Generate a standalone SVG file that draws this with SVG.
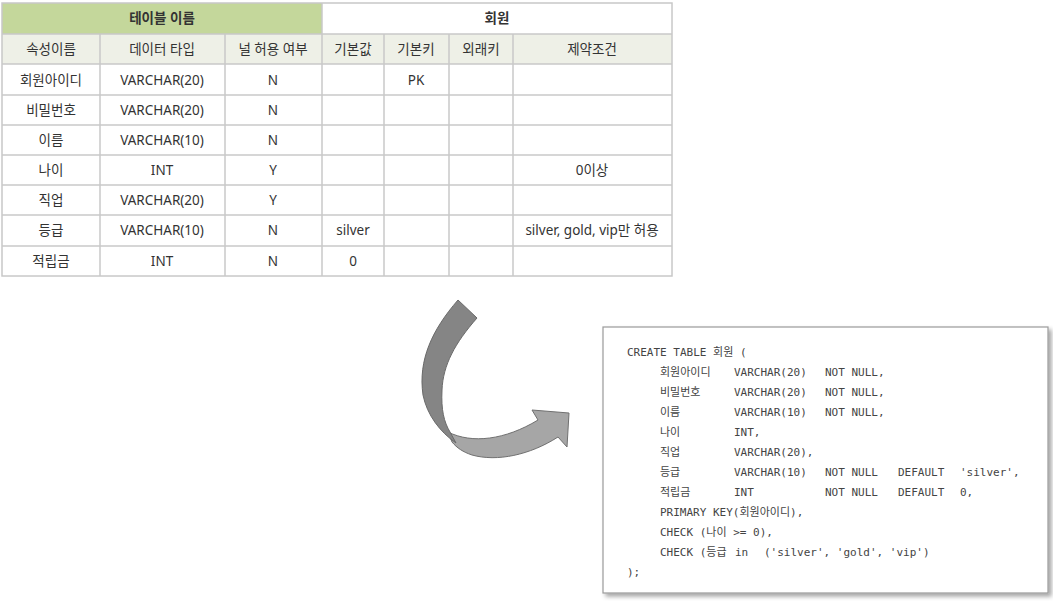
<svg xmlns="http://www.w3.org/2000/svg" width="1053" height="601" viewBox="0 0 1053 601">
<style>
.cell{font-family:"Noto Sans","Noto Sans CJK KR",sans-serif;font-size:13.5px;fill:#333;text-anchor:middle}
.hd{font-weight:bold}
.grid{stroke:#c8c8c8;stroke-width:1.5;fill:none}
.code{font-family:"DejaVu Sans Mono","Noto Sans CJK KR",monospace;font-size:11px;fill:#444}
</style>
<defs>
<filter id="sh" x="-5%" y="-5%" width="115%" height="115%">
<feDropShadow dx="3" dy="3" stdDeviation="2" flood-color="#000" flood-opacity="0.35"/>
</filter>
</defs>
<rect width="1053" height="601" fill="#fff"/>

<g id="table">
<rect x="2" y="3" width="320" height="31" fill="#c4d79b"/>
<rect x="322" y="3" width="350" height="31" fill="#fff"/>
<rect x="2" y="34" width="670" height="30" fill="#eef0e7"/>
<g class="grid">
<rect x="2" y="3" width="670" height="273"/>
<line x1="2" y1="34" x2="672" y2="34"/>
<line x1="2" y1="64" x2="672" y2="64"/>
<line x1="2" y1="95" x2="672" y2="95"/>
<line x1="2" y1="125" x2="672" y2="125"/>
<line x1="2" y1="155" x2="672" y2="155"/>
<line x1="2" y1="185" x2="672" y2="185"/>
<line x1="2" y1="215" x2="672" y2="215"/>
<line x1="2" y1="246" x2="672" y2="246"/>
<line x1="100" y1="34" x2="100" y2="276"/>
<line x1="225" y1="34" x2="225" y2="276"/>
<line x1="322" y1="3" x2="322" y2="276"/>
<line x1="384" y1="34" x2="384" y2="276"/>
<line x1="449" y1="34" x2="449" y2="276"/>
<line x1="513" y1="34" x2="513" y2="276"/>
</g>
<text class="cell hd" x="162" y="23">테이블 이름</text>
<text class="cell hd" x="497" y="23">회원</text>
<text class="cell" x="51" y="54">속성이름</text>
<text class="cell" x="162" y="54">데이터 타입</text>
<text class="cell" x="273" y="54">널 허용 여부</text>
<text class="cell" x="353" y="54">기본값</text>
<text class="cell" x="416" y="54">기본키</text>
<text class="cell" x="481" y="54">외래키</text>
<text class="cell" x="592" y="54">제약조건</text>

<text class="cell" x="51" y="85">회원아이디</text>
<text class="cell" x="162" y="85">VARCHAR(20)</text>
<text class="cell" x="273" y="85">N</text>
<text class="cell" x="416" y="85">PK</text>

<text class="cell" x="51" y="115">비밀번호</text>
<text class="cell" x="162" y="115">VARCHAR(20)</text>
<text class="cell" x="273" y="115">N</text>

<text class="cell" x="51" y="145">이름</text>
<text class="cell" x="162" y="145">VARCHAR(10)</text>
<text class="cell" x="273" y="145">N</text>

<text class="cell" x="51" y="175">나이</text>
<text class="cell" x="162" y="175">INT</text>
<text class="cell" x="273" y="175">Y</text>
<text class="cell" x="592" y="175">0이상</text>

<text class="cell" x="51" y="205">직업</text>
<text class="cell" x="162" y="205">VARCHAR(20)</text>
<text class="cell" x="273" y="205">Y</text>

<text class="cell" x="51" y="235">등급</text>
<text class="cell" x="162" y="235">VARCHAR(10)</text>
<text class="cell" x="273" y="235">N</text>
<text class="cell" x="353" y="235">silver</text>
<text class="cell" x="592" y="235">silver, gold, vip만 허용</text>

<text class="cell" x="51" y="266">적립금</text>
<text class="cell" x="162" y="266">INT</text>
<text class="cell" x="273" y="266">N</text>
<text class="cell" x="353" y="266">0</text>
</g>

<g id="connectors">
<path d="M448,432 C472,444 505,440 538,420 L532,410 L569,413 L567,447 L558,437 C530,455 497,462 472,455 C463,452 457,448 452,442 Z" fill="#a6a6a6" stroke="#707070" stroke-width="1"/>
<path d="M458,300 L477,318 C455,343 443,365 442,390 C441,410 444,422 450,432 L456,443 C440,432 427,415 423,395 C418,360 432,330 458,300 Z" fill="#858585" stroke="#6a6a6a" stroke-width="1"/>
</g>

<g id="sql">
<rect x="603" y="327" width="445" height="266" fill="#fff" stroke="#9a9a9a" stroke-width="1.2" filter="url(#sh)"/>
<text class="code" x="627" y="356">CREATE TABLE 회원 (</text>
<text class="code" x="660" y="376">회원아이디</text>
<text class="code" x="734" y="376">VARCHAR(20)</text>
<text class="code" x="825" y="376">NOT NULL,</text>
<text class="code" x="660" y="396">비밀번호</text>
<text class="code" x="734" y="396">VARCHAR(20)</text>
<text class="code" x="825" y="396">NOT NULL,</text>
<text class="code" x="660" y="416">이름</text>
<text class="code" x="734" y="416">VARCHAR(10)</text>
<text class="code" x="825" y="416">NOT NULL,</text>
<text class="code" x="660" y="436">나이</text>
<text class="code" x="734" y="436">INT,</text>
<text class="code" x="660" y="456">직업</text>
<text class="code" x="734" y="456">VARCHAR(20),</text>
<text class="code" x="660" y="476">등급</text>
<text class="code" x="734" y="476">VARCHAR(10)</text>
<text class="code" x="825" y="476">NOT NULL</text>
<text class="code" x="898" y="476">DEFAULT</text>
<text class="code" x="960" y="476">'silver',</text>
<text class="code" x="660" y="496">적립금</text>
<text class="code" x="734" y="496">INT</text>
<text class="code" x="825" y="496">NOT NULL</text>
<text class="code" x="898" y="496">DEFAULT</text>
<text class="code" x="960" y="496">0,</text>
<text class="code" x="660" y="516">PRIMARY KEY(회원아이디),</text>
<text class="code" x="660" y="536">CHECK (나이 &gt;= 0),</text>
<text class="code" x="660" y="556">CHECK (등급</text>
<text class="code" x="735" y="556">in</text>
<text class="code" x="764" y="556">('silver', 'gold', 'vip')</text>
<text class="code" x="627" y="576">);</text>
</g>
</svg>
